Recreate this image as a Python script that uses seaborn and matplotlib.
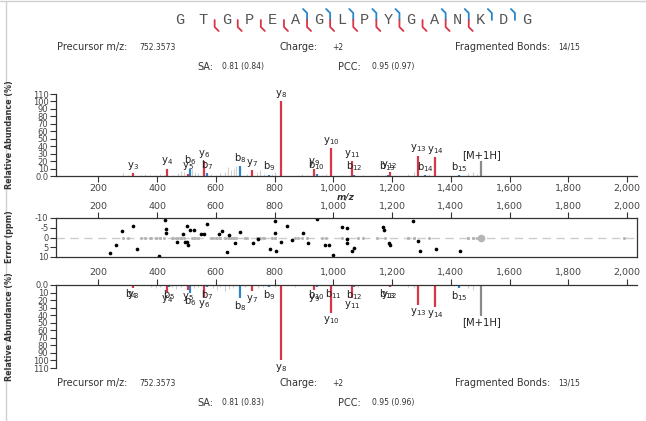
import numpy as np
import pandas as pd
import matplotlib
matplotlib.use("Agg")
import matplotlib.pyplot as plt
import seaborn as sns
from matplotlib.lines import Line2D
from matplotlib.ticker import FuncFormatter, MultipleLocator

# peptide and fragment ions
sequence = list("GTGPEAGLPYGANKDG")

b_labels = ["b4", "b5", "b6", "b7", "b8", "b9", "b10", "b11", "b12", "b13", "b14", "b15"]
b_mz = [313.15, 442.19, 513.23, 570.25, 683.34, 780.39, 943.45, 1000.48, 1071.51, 1185.56, 1313.65, 1428.68]
b_top = [np.nan, np.nan, 10, 4, 13, 1.5, 3, np.nan, 1.5, 1.5, 1, 1]
b_bottom = [1, 3, 11, 3, 17, 3, 3, 1, 2, 1.5, np.nan, 3.5]

y_labels = ["y3", "y4", "y5", "y6", "y7", "y8", "y9", "y10", "y11", "y12", "y13", "y14"]
y_mz = [319.16, 433.21, 504.25, 561.27, 724.33, 821.38, 934.47, 991.49, 1062.53, 1191.57, 1288.62, 1345.65]
y_top = [3.5, 10, 3, 20, 8, 100, 9, 37, 20, 5, 27, 25]
y_bottom = [4, 9, 6, 16, 8.5, 100, 7, 37, 17, 3, 26, 29]

prec_mz = 1503.71
prec_top = 19.5
prec_bottom = 41

# unannotated peaks
grey_top_mz = [285, 300, 345, 360, 375, 395, 410, 425, 455, 470, 482, 492, 520, 528, 540, 585, 600,
               615, 630, 640, 652, 662, 670, 705, 740, 752, 765, 790, 800, 880, 895, 912, 960, 975,
               1030, 1100, 1150, 1175, 1255, 1275, 1325, 1460, 1475, 1490]
grey_top_int = [4, 2, 1.5, 3, 2, 2, 3, 2, 2, 4, 7, 5, 10, 6, 4, 3, 2,
                4, 6, 12, 8, 10, 13, 3, 5, 8, 3, 3, 5, 2, 3, 2, 2, 3,
                2, 2, 2, 2, 3, 5, 3, 4, 6, 3]
grey_bot_mz = [380, 395, 410, 450, 465, 480, 525, 540, 590, 605, 615, 630, 645, 660, 700, 745, 760,
               800, 870, 1085, 1255, 1275, 1460, 1475]
grey_bot_int = [3, 4, 2, 3, 5, 3, 4, 3, 4, 6, 3, 8, 5, 4, 3, 4, 3,
                2, 2, 2, 3, 4, 4, 6]

# mass error (ppm) of matched peaks
err_mz = [240, 260, 282, 317, 333, 408, 426, 431, 431, 467, 488, 496, 501, 503, 507, 512, 526, 550,
          560, 569, 612, 620, 646, 637, 666, 683, 725, 745, 785, 802, 802, 804, 821, 844, 859, 898,
          915, 944, 972, 987, 1000, 1029, 1046, 1046, 1046, 1063, 1069, 1169, 1174, 1188, 1194,
          1273, 1290, 1294, 1350, 1432]
err_ppm = [8.0, 3.8, -3.4, -6.1, 5.8, 9.5, -9.0, -4.5, -2.3, 2.1, -1.9, 2.1, -5.8, 2.1, 3.8, -3.8,
           -3.8, -1.7, -1.7, -6.8, -1.6, -3.3, -1.4, 7.6, 2.9, -2.9, 2.6, 0.9, 6.0, -8.5, -2.4, 7.1,
           2.4, -5.8, 1.1, -2.3, 2.9, -9.3, 3.8, 3.8, 8.8, -5.6, -4.8, 0.9, 2.9, 7.1, 5.5, -5.5,
           -4.1, 2.6, 4.1, -8.5, 1.6, 6.8, 5.8, 6.8]
err_grey_mz = grey_top_mz + grey_bot_mz + [1990]

RED = "#d9364a"
BLUE = "#2b86c9"
GREY = "#cfcfcf"
PREC = "#8a8a8a"
TXT = "#333333"

sns.set_theme(style="white")
plt.rcParams["font.family"] = ["DejaVu Sans"]

W, H = 646, 421
fig = plt.figure(figsize=(W / 100, H / 100), dpi=100)


def fx(px):
    return px / W


def fy(py):
    return 1 - py / H


def box(l, t, r, b):
    return [fx(l), fy(b), fx(r) - fx(l), fy(t) - fy(b)]


XL, XR = 56, 637
xlim = (56, 2034)

ax_top = fig.add_axes(box(XL, 94, XR, 176))
ax_err = fig.add_axes(box(XL, 218, XR, 257))
ax_bot = fig.add_axes(box(XL, 285, XR, 368))

for ax in (ax_top, ax_err, ax_bot):
    ax.set_xlim(*xlim)
    ax.set_facecolor("white")
    ax.xaxis.set_major_locator(MultipleLocator(200))
    ax.xaxis.set_major_formatter(FuncFormatter(lambda v, p: f"{int(v):,}" if v >= 200 else ""))
    ax.tick_params(axis="both", length=4, width=0.8, color=TXT, labelcolor="#444444", pad=1.5)
    ax.tick_params(axis="x", labelsize=6.8)
    ax.tick_params(axis="y", labelsize=6)
    for s in ax.spines.values():
        s.set_color(TXT)
        s.set_linewidth(0.9)

abund_fmt = FuncFormatter(lambda v, p: "0.0" if v == 0 else f"{int(v)}")

# top spectrum
ax_top.set_ylim(0, 110)
ax_top.yaxis.set_major_locator(MultipleLocator(10))
ax_top.yaxis.set_major_formatter(abund_fmt)
ax_top.spines["top"].set_visible(False)
ax_top.spines["right"].set_visible(False)
ax_top.tick_params(axis="x", bottom=True, labelbottom=True)
ax_top.tick_params(axis="y", left=True)

# error panel
ax_err.set_ylim(10, -10)
ax_err.set_yticks([-10, -5, 0, 5, 10])
ax_err.yaxis.set_major_formatter(FuncFormatter(lambda v, p: f"{int(v)}"))
ax_err.tick_params(axis="x", top=True, labeltop=True, bottom=False, labelbottom=False, pad=1)
ax_err.tick_params(axis="y", left=True)

# bottom spectrum
ax_bot.set_ylim(110, 0)
ax_bot.yaxis.set_major_locator(MultipleLocator(10))
ax_bot.yaxis.set_major_formatter(abund_fmt)
ax_bot.spines["bottom"].set_visible(False)
ax_bot.spines["right"].set_visible(False)
ax_bot.tick_params(axis="x", top=True, labeltop=True, bottom=False, labelbottom=False)
ax_bot.tick_params(axis="y", left=True)


def sub_label(name):
    if name.startswith("["):
        return name
    return name[0] + "$_{" + name[1:] + "}$"


def draw_spectrum(ax, b_int, y_int, prec_int, g_mz, g_int, down):
    ax.vlines(g_mz, 0, g_int, color=GREY, lw=0.8, zorder=1)
    peaks = pd.DataFrame({
        "label": b_labels + y_labels + ["[M+1H]"],
        "mz": b_mz + y_mz + [prec_mz],
        "inten": b_int + y_int + [prec_int],
        "color": [BLUE] * len(b_mz) + [RED] * len(y_mz) + [PREC],
    }).dropna()
    ax.vlines(peaks["mz"], 0, peaks["inten"], colors=peaks["color"], lw=1.6, zorder=2)
    for _, r in peaks.iterrows():
        ax.annotate(sub_label(r["label"]), (r["mz"], r["inten"]),
                    xytext=(0, -1 if down else 1), textcoords="offset points",
                    ha="center", va="top" if down else "bottom",
                    fontsize=7.2, color="#222222", annotation_clip=False, zorder=3)


draw_spectrum(ax_top, b_top, y_top, prec_top, grey_top_mz, grey_top_int, False)
draw_spectrum(ax_bot, b_bottom, y_bottom, prec_bottom, grey_bot_mz, grey_bot_int, True)

# error dots
ax_err.axhline(0, color="#cccccc", lw=1, ls=(0, (6, 4)), zorder=0)
sns.scatterplot(x=err_grey_mz, y=[0] * len(err_grey_mz), ax=ax_err, color="#b5b5b5",
                s=5, linewidth=0, zorder=1)
sns.scatterplot(x=[prec_mz], y=[0], ax=ax_err, color="#b5b5b5", s=30, linewidth=0, zorder=1)
sns.scatterplot(x=err_mz, y=err_ppm, ax=ax_err, color="black", s=7, linewidth=0, zorder=2)

# axis titles
fig.text(fx(346), fy(197), "m/z", ha="center", va="center", fontsize=6.5,
         fontweight="bold", style="italic", color=TXT)
for yc, txt in [(135, "Relative Abundance (%)"), (237, "Error (ppm)"), (327, "Relative Abundance (%)")]:
    fig.text(fx(10), fy(yc), txt, rotation=90, ha="center", va="center",
             fontsize=5.8, fontweight="bold", color=TXT)

# sequence with fragment markers
x0, dx, yc = 180, 23.1, 20
for i, aa in enumerate(sequence):
    fig.text(fx(x0 + i * dx), fy(yc), aa, ha="center", va="center",
             fontsize=11, family="Liberation Mono", color="#555555")
n = len(sequence)
for bond in range(1, n):
    xm = x0 + (bond - 0.5) * dx
    has_b = not np.isnan(b_top[b_labels.index(f"b{bond}")]) if f"b{bond}" in b_labels else False
    yname = f"y{n - bond}"
    has_y = not np.isnan(y_top[y_labels.index(yname)]) if yname in y_labels else False
    if has_b:
        fig.add_artist(Line2D([fx(xm - 4), fx(xm), fx(xm)], [fy(yc - 11), fy(yc - 7), fy(yc)],
                              color=BLUE, lw=1.3, transform=fig.transFigure))
    if has_y:
        fig.add_artist(Line2D([fx(xm), fx(xm), fx(xm + 4)], [fy(yc), fy(yc + 7), fy(yc + 11)],
                              color=RED, lw=1.3, transform=fig.transFigure))

# info lines
def info(y, prec, charge, frag, sa, pcc):
    items = [(57, "Precursor m/z:", 7), (139, prec, 5.5), (280, "Charge:", 7), (332, charge, 5.5),
             (455, "Fragmented Bonds:", 7), (558, frag, 5.5)]
    for x, t, fs in items:
        fig.text(fx(x), fy(y), t, ha="left", va="center", fontsize=fs, color=TXT)
    items = [(197, "SA:", 7), (222, sa, 5.5), (338, "PCC:", 7), (372, pcc, 5.5)]
    for x, t, fs in items:
        fig.text(fx(x), fy(y + 20), t, ha="left", va="center", fontsize=fs, color=TXT)


info(47, "752.3573", "+2", "14/15", "0.81 (0.84)", "0.95 (0.97)")
info(383, "752.3573", "+2", "13/15", "0.81 (0.83)", "0.95 (0.96)")

# page frame
fig.add_artist(Line2D([0, 1], [fy(1), fy(1)], color="#d0d0d0", lw=1, transform=fig.transFigure))
fig.add_artist(Line2D([fx(6), fx(6)], [0, fy(1)], color="#d0d0d0", lw=1, transform=fig.transFigure))

fig.savefig("out.png", dpi=100, facecolor="white")
